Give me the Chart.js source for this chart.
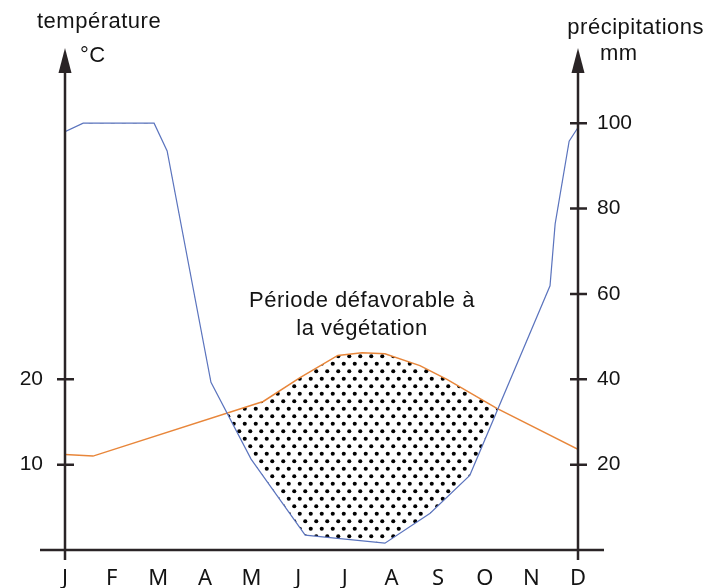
<!DOCTYPE html>
<html><head><meta charset="utf-8">
<script src="https://cdn.jsdelivr.net/npm/chart.js@4.4.0/dist/chart.umd.min.js"></script>
<style>html,body{margin:0;padding:0;background:#fff;} #wrap{width:706px;height:588px;position:relative;}</style>
</head><body><div id="wrap"><canvas id="c"></canvas></div>
<script>
// ---- data ----
const months = ['J','F','M','A','M','J','J','A','S','O','N','D'];
// month position (0 = J ... 11 = D) and precipitation in mm
const precipMonth = [0, 0.39, 1.91, 2.19, 3.13, 3.99, 5.15, 6.86, 7.83, 8.68, 10.40, 10.51, 10.81, 11];
const precipMm    = [98, 100, 100, 93.5, 39.3, 21.3, 3.5, 1.6, 8.6, 17.5, 61.9, 76.4, 95.8, 99];
// month position and temperature in °C
const tempMonth = [0, 0.6, 4.25, 5.04, 5.85, 6.37, 6.86, 7.61, 8.19, 9.26, 11];
const tempC     = [11.2, 11.0, 17.4, 20.2, 22.8, 23.1, 23.0, 21.6, 20.0, 16.6, 11.8];
const tempTicks = [10, 20];
const precipTicks = [20, 40, 60, 80, 100];
const precipMax = 112;           // top of the axes
const tempMax = precipMax / 2;   // P = 2T

const AXIS = '#2a2426';
const TXT = '#141414';

function makeDots() {
  const c = document.createElement('canvas');
  c.width = 11; c.height = 15;
  const g = c.getContext('2d');
  g.fillStyle = '#fff'; g.fillRect(0, 0, 11, 15);
  g.fillStyle = '#000';
  [[2.75, 3.75], [8.25, 11.25]].forEach(([x, y]) => { g.beginPath(); g.arc(x, y, 2.05, 0, Math.PI * 2); g.fill(); });
  return g.createPattern(c, 'repeat');
}

const decor = {
  id: 'decor',
  afterDraw(chart) {
    const {ctx, chartArea, scales} = chart;
    const xs = scales.x, yT = scales.yT, yP = scales.yP;
    const x0 = xs.getPixelForValue(0), x1 = xs.getPixelForValue(11);
    const yb = yP.getPixelForValue(0);
    const top = chartArea.top;
    ctx.save();
    ctx.strokeStyle = AXIS; ctx.fillStyle = AXIS; ctx.lineWidth = 2.5;
    ctx.beginPath();
    ctx.moveTo(x0 - 25, yb); ctx.lineTo(x1 + 26, yb);
    ctx.moveTo(x0, yb + 10); ctx.lineTo(x0, top);
    ctx.moveTo(x1, yb + 10); ctx.lineTo(x1, top);
    tempTicks.forEach(v => { const y = yT.getPixelForValue(v); ctx.moveTo(x0 - 8, y); ctx.lineTo(x0 + 9, y); });
    precipTicks.forEach(v => { const y = yP.getPixelForValue(v); ctx.moveTo(x1 - 8, y); ctx.lineTo(x1 + 9, y); });
    ctx.stroke();
    [x0, x1].forEach(x => {
      ctx.beginPath();
      ctx.moveTo(x, top - 24); ctx.lineTo(x - 6.5, top + 1); ctx.lineTo(x + 6.5, top + 1); ctx.closePath();
      ctx.fill();
    });
    ctx.fillStyle = TXT;
    ctx.font = '22px "Liberation Sans", Arial, sans-serif';
    ctx.letterSpacing = '0.5px';
    ctx.textBaseline = 'alphabetic';
    ctx.textAlign = 'left';
    ctx.fillText('température', 37, 28);
    ctx.fillText('°C', 80, 62);
    ctx.textAlign = 'right';
    ctx.fillText('précipitations', 704, 34);
    ctx.textAlign = 'left';
    ctx.fillText('mm', 600, 60);
    ctx.textAlign = 'center';
    ctx.fillText('Période défavorable à', 362, 307);
    ctx.fillText('la végétation', 362, 335);
    ctx.restore();
  }
};

new Chart(document.getElementById('c'), {
  type: 'line',
  data: {
    datasets: [
      {
        label: 'précipitations',
        data: precipMonth.map((m, i) => ({x: m, y: precipMm[i]})),
        yAxisID: 'yP',
        borderColor: '#5b74be',
        borderWidth: 1.2,
        pointRadius: 0,
        tension: 0,
        fill: false
      },
      {
        label: 'température',
        data: tempMonth.map((m, i) => ({x: m, y: tempC[i]})),
        yAxisID: 'yT',
        borderColor: '#e8863a',
        borderWidth: 1.5,
        pointRadius: 0,
        tension: 0,
        fill: {target: 0, above: makeDots(), below: 'rgba(0,0,0,0)'}
      }
    ]
  },
  plugins: [decor],
  options: {
    responsive: true,
    maintainAspectRatio: false,
    animation: false,
    layout: {padding: {top: 72, left: 0, right: 0, bottom: 0}},
    plugins: {legend: {display: false}, tooltip: {enabled: false}},
    scales: {
      x: {
        type: 'linear', min: 0, max: 11,
        grid: {display: false, drawTicks: false},
        border: {display: false},
        afterBuildTicks: s => { s.ticks = months.map((_, i) => ({value: i})); },
        afterFit: s => { s.height = 38; },
        ticks: {
          autoSkip: false, maxRotation: 0, padding: 16,
          callback: v => months[v],
          color: TXT,
          font: {family: '"Noto Sans", "Open Sans", sans-serif', size: 22}
        }
      },
      yT: {
        type: 'linear', position: 'left', min: 0, max: tempMax,
        grid: {display: false, drawTicks: false},
        border: {display: false},
        afterBuildTicks: s => { s.ticks = tempTicks.map(v => ({value: v})); },
        afterFit: s => { s.width = 65; },
        ticks: {padding: 22, color: TXT, font: {family: '"Liberation Sans", Arial, sans-serif', size: 21}}
      },
      yP: {
        type: 'linear', position: 'right', min: 0, max: precipMax,
        grid: {display: false, drawTicks: false},
        border: {display: false},
        afterBuildTicks: s => { s.ticks = precipTicks.map(v => ({value: v})); },
        afterFit: s => { s.width = 128; },
        ticks: {padding: 19, color: TXT, font: {family: '"Liberation Sans", Arial, sans-serif', size: 21}}
      }
    }
  }
});
</script>
</body></html>
